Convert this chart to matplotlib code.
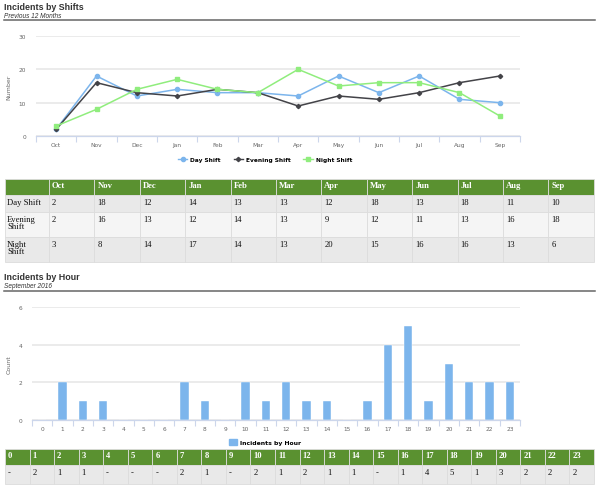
import matplotlib
matplotlib.use("Agg")
import matplotlib.pyplot as plt
from matplotlib.patches import Rectangle
from matplotlib.lines import Line2D

months = ["Oct", "Nov", "Dec", "Jan", "Feb", "Mar", "Apr", "May", "Jun", "Jul", "Aug", "Sep"]
day_shift = [2, 18, 12, 14, 13, 13, 12, 18, 13, 18, 11, 10]
evening_shift = [2, 16, 13, 12, 14, 13, 9, 12, 11, 13, 16, 18]
night_shift = [3, 8, 14, 17, 14, 13, 20, 15, 16, 16, 13, 6]
shift_names = ["Day Shift", "Evening Shift", "Night Shift"]
shift_rows = ["Day Shift", "Evening\nShift", "Night\nShift"]

hours = list(range(24))
hour_counts = [0, 2, 1, 1, 0, 0, 0, 2, 1, 0, 2, 1, 2, 1, 1, 0, 1, 4, 5, 1, 3, 2, 2, 2]

BLUE = "#7cb5ec"
DARK = "#434348"
LIME = "#90ed7d"
GREEN = "#5a9130"
ROW_A = "#e9e9e9"
ROW_B = "#f5f5f5"
GRID = "#e6e6e6"
AXIS = "#ccd6eb"
TICK = "#666666"

W, H = 600, 489
fig = plt.figure(figsize=(6, 4.89), dpi=100)

# overlay in pixel units for headers and tables
ov = fig.add_axes([0, 0, 1, 1])
ov.set_xlim(0, W)
ov.set_ylim(H, 0)
ov.axis("off")


def px_axes(x0, y0, x1, y1):
    return fig.add_axes([x0 / W, 1 - y1 / H, (x1 - x0) / W, (y1 - y0) / H])


def header(y, title, sub):
    ov.text(4, y, title, fontsize=6.4, fontweight="bold", family="Liberation Sans",
            color="#333333", va="center")
    ov.text(4, y + 9, sub, fontsize=4.7, style="italic", family="Liberation Sans",
            color="#333333", va="center")
    ov.plot([4, 595], [y + 14, y + 14], color="#666666", lw=1.1)


def style_axes(ax, ymax, ystep, ylabel, n, ypad):
    ax.set_ylim(0, ymax)
    ax.set_yticks(range(0, ymax + 1, ystep))
    ax.set_xlim(-0.5, n - 0.5)
    ax.set_xticks(range(n))
    ax.set_xticks([i - 0.5 for i in range(n + 1)], minor=True)
    ax.tick_params(axis="x", which="major", length=0, labelsize=4.2, colors=TICK, pad=4)
    ax.tick_params(axis="x", which="minor", length=4, color=AXIS, width=0.8)
    ax.tick_params(axis="y", length=0, labelsize=4.2, colors=TICK, pad=ypad)
    ax.grid(axis="y", color=GRID, lw=1.1)
    ax.set_axisbelow(True)
    for s in ["top", "right", "left"]:
        ax.spines[s].set_visible(False)
    ax.spines["bottom"].set_color(AXIS)
    ax.spines["bottom"].set_linewidth(0.9)
    ax.set_ylabel(ylabel, fontsize=4.5, color=TICK, labelpad=5)


def cell(x0, y0, w, h, color):
    ov.add_patch(Rectangle((x0, y0), w, h, facecolor=color, edgecolor="#dcdcdc", lw=0.6))


# ---- chart 1: incidents by shifts ----
header(7, "Incidents by Shifts", "Previous 12 Months")
ax1 = px_axes(36, 37, 520, 137)
x = range(len(months))
ax1.plot(x, day_shift, color=BLUE, lw=1.1, marker="o", ms=3)
ax1.plot(x, evening_shift, color=DARK, lw=1.1, marker="D", ms=2.2)
ax1.plot(x, night_shift, color=LIME, lw=1.1, marker="s", ms=3.2)
ax1.set_xticklabels(months)
style_axes(ax1, 30, 10, "Number", len(months), 7)

handles = [Line2D([], [], color=BLUE, marker="o", ms=3, lw=1),
           Line2D([], [], color=DARK, marker="D", ms=2.2, lw=1),
           Line2D([], [], color=LIME, marker="s", ms=3.2, lw=1)]
fig.legend(handles, shift_names, loc="center", bbox_to_anchor=(265 / W, 1 - 160 / H),
           ncol=3, frameon=False, prop={"size": 4.2, "weight": "bold", "family": "DejaVu Sans"},
           handlelength=1.6, columnspacing=2.2, handletextpad=0.5)

# ---- table 1 ----
x_left, first_w, col_w = 5, 44, 45.4
row_y = [180, 196, 213, 238, 263]
cell(x_left, row_y[0], first_w, row_y[1] - row_y[0], GREEN)
for j, m in enumerate(months):
    cx = x_left + first_w + j * col_w
    cell(cx, row_y[0], col_w, row_y[1] - row_y[0], GREEN)
    ov.text(cx + 3, row_y[0] + 2, m, fontsize=6.2, fontweight="bold", family="Liberation Serif",
            color="white", va="top")
for i, (name, vals) in enumerate(zip(shift_rows, [day_shift, evening_shift, night_shift])):
    y0, y1 = row_y[i + 1], row_y[i + 2]
    color = ROW_A if i % 2 == 0 else ROW_B
    cell(x_left, y0, first_w, y1 - y0, color)
    ov.text(x_left + 2, y0 + 3, name, fontsize=6.2, family="Liberation Serif",
            color="#111111", va="top", linespacing=0.85)
    for j, v in enumerate(vals):
        cx = x_left + first_w + j * col_w
        cell(cx, y0, col_w, y1 - y0, color)
        ov.text(cx + 3, y0 + 3, str(v), fontsize=6.2, family="Liberation Serif",
                color="#111111", va="top")

# ---- chart 2: incidents by hour ----
header(278, "Incidents by Hour", "September 2016")
ax2 = px_axes(32, 308, 520, 421)
ax2.bar(hours, hour_counts, width=0.42, color=BLUE, edgecolor="white", lw=0.3)
ax2.set_xticklabels([str(h) for h in hours])
style_axes(ax2, 6, 2, "Count", len(hours), 7)

fig.legend([Rectangle((0, 0), 1, 1, color=BLUE)], ["Incidents by Hour"], loc="center",
           bbox_to_anchor=(265 / W, 1 - 443 / H), frameon=False,
           prop={"size": 4.4, "weight": "bold", "family": "DejaVu Sans"},
           handlelength=1.2, handleheight=1.0, handletextpad=0.5)

# ---- table 2 ----
hw = (594 - 5) / 24
hy = [450, 466, 485]
for j, h in enumerate(hours):
    cx = 5 + j * hw
    cell(cx, hy[0], hw, hy[1] - hy[0], GREEN)
    ov.text(cx + 3, hy[0] + 2, str(h), fontsize=6.2, fontweight="bold", family="Liberation Serif",
            color="white", va="top")
    cell(cx, hy[1], hw, hy[2] - hy[1], ROW_A)
    v = hour_counts[j]
    ov.text(cx + 3, hy[1] + 3, str(v) if v else "-", fontsize=6.2, family="Liberation Serif",
            color="#111111", va="top")

fig.savefig("out.png", dpi=100)
